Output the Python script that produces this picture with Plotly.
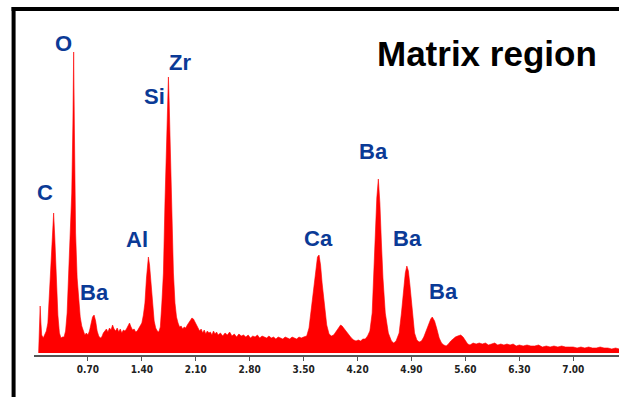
import plotly.graph_objects as go

# ---------------- data ----------------
energy_kev = [
    0.06, 0.07, 0.08, 0.09, 0.10, 0.12, 0.14, 0.16, 0.18, 0.20, 0.22, 0.24, 0.255, 0.27, 0.29, 0.31, 0.33, 0.35, 0.37,
    0.39, 0.41, 0.43, 0.45, 0.47, 0.49, 0.505, 0.515, 0.525, 0.54, 0.56, 0.58, 0.60, 0.62, 0.64, 0.66, 0.68, 0.70,
    0.72, 0.74, 0.76, 0.78, 0.80, 0.82, 0.84, 0.86, 0.88, 0.90, 0.92, 0.94, 0.96, 0.98, 1.00, 1.02, 1.04, 1.06,
    1.08, 1.10, 1.12, 1.14, 1.16, 1.18, 1.20, 1.22, 1.24, 1.26, 1.28, 1.30, 1.32, 1.34, 1.36, 1.38, 1.40, 1.42,
    1.44, 1.46, 1.485, 1.50, 1.52, 1.54, 1.56, 1.58, 1.60, 1.62, 1.64, 1.66, 1.68, 1.70, 1.72, 1.735, 1.745, 1.755,
    1.77, 1.79, 1.81, 1.83, 1.85, 1.87, 1.89, 1.91, 1.93, 1.95, 1.97, 1.99, 2.01, 2.03, 2.05, 2.07, 2.09, 2.11,
    2.13, 2.15, 2.17, 2.19, 2.21, 2.23, 2.25, 2.27, 2.29, 2.31, 2.33, 2.35, 2.37, 2.39, 2.42, 2.45, 2.48, 2.51,
    2.54, 2.57, 2.60, 2.63, 2.66, 2.69, 2.72, 2.75, 2.78, 2.81, 2.84, 2.87, 2.90, 2.93, 2.96, 2.99, 3.02, 3.05,
    3.08, 3.11, 3.14, 3.17, 3.20, 3.23, 3.26, 3.29, 3.32, 3.35, 3.38, 3.41, 3.44, 3.47, 3.50, 3.54, 3.57, 3.60,
    3.63, 3.66, 3.68, 3.70, 3.72, 3.74, 3.77, 3.80, 3.83, 3.86, 3.89, 3.92, 3.95, 3.98, 4.00, 4.03, 4.06, 4.09,
    4.12, 4.15, 4.18, 4.21, 4.24, 4.27, 4.30, 4.33, 4.36, 4.39, 4.41, 4.43, 4.45, 4.47, 4.49, 4.51, 4.53, 4.56,
    4.60, 4.64, 4.67, 4.70, 4.74, 4.77, 4.80, 4.82, 4.84, 4.86, 4.88, 4.91, 4.94, 4.97, 5.00, 5.03, 5.06, 5.09,
    5.12, 5.15, 5.17, 5.20, 5.23, 5.26, 5.29, 5.32, 5.35, 5.38, 5.41, 5.44, 5.47, 5.50, 5.54, 5.57, 5.60, 5.63,
    5.66, 5.70, 5.74, 5.78, 5.82, 5.86, 5.90, 5.94, 5.98, 6.02, 6.06, 6.10, 6.14, 6.18, 6.22, 6.26, 6.30, 6.35,
    6.40, 6.45, 6.50, 6.55, 6.60, 6.65, 6.70, 6.75, 6.80, 6.85, 6.90, 6.95, 7.00, 7.05, 7.10, 7.15, 7.20, 7.25,
    7.30, 7.35, 7.40, 7.45, 7.50, 7.55, 7.60,
]
counts = [
    0, 30, 47, 30, 18, 15, 18, 22, 30, 60, 95, 130, 140, 115, 70, 38, 20, 15, 16,
    16, 22, 40, 80, 115, 160, 230, 301, 220, 120, 75, 50, 36, 27, 21, 18, 20, 18,
    22, 30, 36, 38, 32, 22, 17, 15, 16, 20, 22, 24, 21, 25, 23, 28, 24, 22,
    25, 21, 24, 20, 23, 22, 24, 27, 30, 26, 23, 24, 21, 22, 25, 27, 30, 38,
    50, 75, 96, 88, 68, 48, 32, 25, 22, 21, 26, 50, 80, 150, 210, 250, 276, 250,
    200, 140, 80, 50, 36, 30, 26, 27, 24, 26, 25, 28, 30, 33, 35, 34, 30, 28,
    25, 22, 24, 20, 23, 19, 22, 20, 21, 18, 22, 19, 21, 18, 20, 17, 20, 18,
    21, 17, 19, 16, 19, 17, 18, 16, 18, 15, 17, 16, 18, 15, 17, 16, 15, 17,
    15, 16, 14, 16, 15, 14, 16, 15, 14, 16, 15, 14, 16, 15, 16, 17, 25, 45,
    68, 88, 96, 98, 88, 70, 45, 28, 19, 17, 18, 21, 25, 28, 27, 24, 20, 17,
    15, 13, 12, 13, 12, 14, 14, 17, 22, 40, 80, 120, 155, 174, 150, 110, 75, 40,
    20, 12, 10, 12, 20, 40, 65, 80, 87, 82, 68, 40, 20, 13, 11, 12, 16, 22,
    29, 34, 36, 32, 24, 15, 10, 8, 7, 9, 12, 14, 16, 17, 18, 16, 13, 9,
    8, 10, 9, 10, 9, 10, 8, 9, 10, 8, 9, 8, 9, 8, 9, 7, 8, 7,
    8, 7, 7, 8, 6, 7, 6, 7, 6, 7, 6, 6, 6, 5, 6, 5, 6, 5,
    5, 6, 5, 5, 4, 5, 4,
]
tick_values = [0.70, 1.40, 2.10, 2.80, 3.50, 4.20, 4.90, 5.60, 6.30, 7.00]
tick_labels = ["0.70", "1.40", "2.10", "2.80", "3.50", "4.20", "4.90", "5.60", "6.30", "7.00"]
peak_labels = ["O", "Zr", "Si", "C", "Ba", "Al", "Ca", "Ba", "Ba", "Ba"]
title_text = "Matrix region"

# ---------------- geometry helpers (pixel -> paper) ----------------
W, H = 619, 397
ML, MT, MB = 34.4, 0, 42
PW, PH = W - ML, H - MT - MB


def px(x):
    return (x - ML) / PW


def py(y):
    return (MT + PH - y) / PH


fig = go.Figure()
fig.add_trace(go.Scatter(
    x=energy_kev, y=counts, mode="lines",
    line=dict(color="#ff0000", width=0.6),
    fill="tozeroy", fillcolor="#ff0000", hoverinfo="skip",
))

label_pos = [(64.3, 44), (180.5, 63), (155, 96.5), (45.5, 192.5), (95, 292),
             (137.5, 239), (319, 238.5), (374, 151), (408, 238.7), (443.5, 291.5)]
annotations = []
for t, (x, y) in zip(peak_labels, label_pos):
    annotations.append(dict(
        text=t, x=px(x), y=py(y), xref="paper", yref="paper",
        xanchor="center", yanchor="middle", showarrow=False,
        font=dict(family="Liberation Sans, Arial", size=22, color="#0b3a96", weight="bold"),
    ))
annotations.append(dict(
    text=title_text, x=px(487), y=py(53), xref="paper", yref="paper",
    xanchor="center", yanchor="middle", showarrow=False,
    font=dict(family="Liberation Sans, Arial", size=35, color="#000000", weight="bold"),
))

shapes = [
    dict(type="rect", xref="paper", yref="paper", x0=px(12), x1=px(16), y0=py(7), y1=py(400),
         fillcolor="black", line=dict(width=0)),
    dict(type="rect", xref="paper", yref="paper", x0=px(12), x1=px(622), y0=py(7), y1=py(11),
         fillcolor="black", line=dict(width=0)),
]

fig.update_layout(
    width=W, height=H,
    margin=dict(l=ML, r=0, t=MT, b=MB, pad=0),
    paper_bgcolor="white", plot_bgcolor="white",
    showlegend=False,
    annotations=annotations,
    shapes=shapes,
    xaxis=dict(
        range=[0, PW / 76.98], showgrid=False, zeroline=False,
        showline=True, linecolor="#555555", linewidth=1.5,
        ticks="outside", ticklen=4, tickwidth=1, tickcolor="#555555",
        tickvals=tick_values, ticktext=tick_labels,
        tickfont=dict(family="Liberation Sans Narrow, DejaVu Sans Condensed", size=10,
                      color="#222222", weight="bold"),
    ),
    yaxis=dict(range=[-2, PH - 2], visible=False, showgrid=False, zeroline=False),
)

fig.write_html("out.html", config={"displayModeBar": False},
               post_script="document.body.style.margin='0';")
